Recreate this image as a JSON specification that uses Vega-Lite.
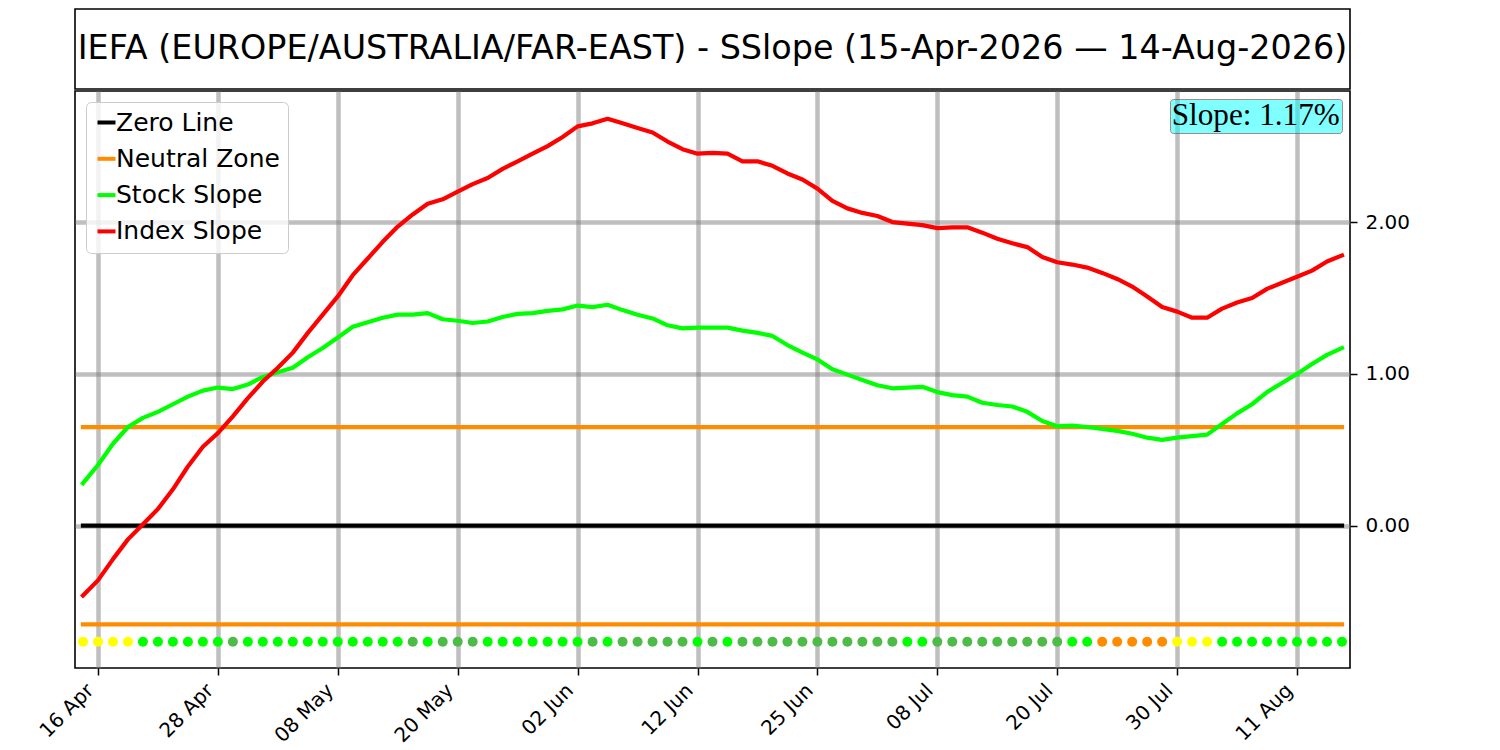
{
  "$schema": "https://vega.github.io/schema/vega-lite/v6.json",
  "background": "white",
  "padding": {"left": 35, "top": 8, "right": 5, "bottom": 5},
  "spacing": 0,
  "resolve": {
    "scale": {"stroke": "independent", "fill": "independent", "shape": "independent"},
    "legend": {"stroke": "independent", "fill": "independent", "shape": "independent"}
  },
  "vconcat": [
    {
      "width": 1275,
      "height": 80,
      "data": {"values": [{"title": "IEFA (EUROPE/AUSTRALIA/FAR-EAST) - SSlope (15-Apr-2026 — 14-Aug-2026)"}]},
      "mark": {"type": "text", "font": "DejaVu Sans", "fontSize": 33.4, "align": "center", "baseline": "middle", "color": "black"},
      "encoding": {
        "x": {"datum": 0.5, "type": "quantitative", "scale": {"domain": [0, 1]}, "axis": null},
        "y": {"datum": 0.5, "type": "quantitative", "scale": {"domain": [0, 1]}, "axis": null},
        "text": {"field": "title", "type": "nominal"}
      }
    },
    {
      "width": 1275,
      "height": 577,
      "data": {
        "values": [
          {"date": "2026-04-15", "stock": 0.28, "index": -0.46, "trend": "rising_weak"},
          {"date": "2026-04-16", "stock": 0.40, "index": -0.36, "trend": "rising_weak"},
          {"date": "2026-04-17", "stock": 0.54, "index": -0.22, "trend": "rising_weak"},
          {"date": "2026-04-20", "stock": 0.65, "index": -0.09, "trend": "rising_weak"},
          {"date": "2026-04-21", "stock": 0.71, "index": 0.01, "trend": "rising"},
          {"date": "2026-04-22", "stock": 0.75, "index": 0.11, "trend": "rising"},
          {"date": "2026-04-23", "stock": 0.80, "index": 0.24, "trend": "rising"},
          {"date": "2026-04-24", "stock": 0.85, "index": 0.39, "trend": "rising"},
          {"date": "2026-04-27", "stock": 0.89, "index": 0.52, "trend": "rising"},
          {"date": "2026-04-28", "stock": 0.91, "index": 0.61, "trend": "rising"},
          {"date": "2026-04-29", "stock": 0.90, "index": 0.72, "trend": "falling"},
          {"date": "2026-04-30", "stock": 0.93, "index": 0.84, "trend": "rising"},
          {"date": "2026-05-01", "stock": 0.98, "index": 0.95, "trend": "rising"},
          {"date": "2026-05-04", "stock": 1.01, "index": 1.04, "trend": "rising"},
          {"date": "2026-05-05", "stock": 1.04, "index": 1.14, "trend": "rising"},
          {"date": "2026-05-06", "stock": 1.11, "index": 1.27, "trend": "rising"},
          {"date": "2026-05-07", "stock": 1.17, "index": 1.39, "trend": "rising"},
          {"date": "2026-05-08", "stock": 1.24, "index": 1.51, "trend": "rising"},
          {"date": "2026-05-11", "stock": 1.31, "index": 1.65, "trend": "rising"},
          {"date": "2026-05-12", "stock": 1.34, "index": 1.76, "trend": "rising"},
          {"date": "2026-05-13", "stock": 1.37, "index": 1.87, "trend": "rising"},
          {"date": "2026-05-14", "stock": 1.39, "index": 1.97, "trend": "rising"},
          {"date": "2026-05-15", "stock": 1.39, "index": 2.05, "trend": "falling"},
          {"date": "2026-05-18", "stock": 1.40, "index": 2.12, "trend": "rising"},
          {"date": "2026-05-19", "stock": 1.36, "index": 2.15, "trend": "falling"},
          {"date": "2026-05-20", "stock": 1.35, "index": 2.20, "trend": "falling"},
          {"date": "2026-05-21", "stock": 1.335, "index": 2.25, "trend": "falling"},
          {"date": "2026-05-22", "stock": 1.345, "index": 2.29, "trend": "rising"},
          {"date": "2026-05-26", "stock": 1.375, "index": 2.35, "trend": "rising"},
          {"date": "2026-05-27", "stock": 1.395, "index": 2.40, "trend": "rising"},
          {"date": "2026-05-28", "stock": 1.40, "index": 2.45, "trend": "rising"},
          {"date": "2026-05-29", "stock": 1.415, "index": 2.50, "trend": "rising"},
          {"date": "2026-06-01", "stock": 1.425, "index": 2.56, "trend": "rising"},
          {"date": "2026-06-02", "stock": 1.45, "index": 2.63, "trend": "rising"},
          {"date": "2026-06-03", "stock": 1.44, "index": 2.65, "trend": "falling"},
          {"date": "2026-06-04", "stock": 1.455, "index": 2.68, "trend": "rising"},
          {"date": "2026-06-05", "stock": 1.42, "index": 2.65, "trend": "falling"},
          {"date": "2026-06-08", "stock": 1.39, "index": 2.62, "trend": "falling"},
          {"date": "2026-06-09", "stock": 1.365, "index": 2.59, "trend": "falling"},
          {"date": "2026-06-10", "stock": 1.32, "index": 2.53, "trend": "falling"},
          {"date": "2026-06-11", "stock": 1.30, "index": 2.48, "trend": "falling"},
          {"date": "2026-06-12", "stock": 1.305, "index": 2.45, "trend": "rising"},
          {"date": "2026-06-15", "stock": 1.305, "index": 2.455, "trend": "falling"},
          {"date": "2026-06-16", "stock": 1.305, "index": 2.45, "trend": "rising"},
          {"date": "2026-06-17", "stock": 1.285, "index": 2.40, "trend": "falling"},
          {"date": "2026-06-18", "stock": 1.27, "index": 2.40, "trend": "falling"},
          {"date": "2026-06-22", "stock": 1.25, "index": 2.37, "trend": "falling"},
          {"date": "2026-06-23", "stock": 1.19, "index": 2.32, "trend": "falling"},
          {"date": "2026-06-24", "stock": 1.14, "index": 2.28, "trend": "falling"},
          {"date": "2026-06-25", "stock": 1.095, "index": 2.22, "trend": "falling"},
          {"date": "2026-06-26", "stock": 1.03, "index": 2.14, "trend": "falling"},
          {"date": "2026-06-29", "stock": 0.995, "index": 2.09, "trend": "falling"},
          {"date": "2026-06-30", "stock": 0.96, "index": 2.06, "trend": "falling"},
          {"date": "2026-07-01", "stock": 0.925, "index": 2.04, "trend": "falling"},
          {"date": "2026-07-02", "stock": 0.905, "index": 2.00, "trend": "falling"},
          {"date": "2026-07-06", "stock": 0.91, "index": 1.99, "trend": "rising"},
          {"date": "2026-07-07", "stock": 0.915, "index": 1.98, "trend": "rising"},
          {"date": "2026-07-08", "stock": 0.88, "index": 1.96, "trend": "falling"},
          {"date": "2026-07-09", "stock": 0.86, "index": 1.965, "trend": "falling"},
          {"date": "2026-07-10", "stock": 0.85, "index": 1.965, "trend": "falling"},
          {"date": "2026-07-13", "stock": 0.81, "index": 1.93, "trend": "falling"},
          {"date": "2026-07-14", "stock": 0.795, "index": 1.89, "trend": "falling"},
          {"date": "2026-07-15", "stock": 0.785, "index": 1.86, "trend": "falling"},
          {"date": "2026-07-16", "stock": 0.75, "index": 1.835, "trend": "falling"},
          {"date": "2026-07-17", "stock": 0.69, "index": 1.77, "trend": "falling"},
          {"date": "2026-07-20", "stock": 0.655, "index": 1.735, "trend": "falling"},
          {"date": "2026-07-21", "stock": 0.66, "index": 1.72, "trend": "rising"},
          {"date": "2026-07-22", "stock": 0.65, "index": 1.70, "trend": "rising"},
          {"date": "2026-07-23", "stock": 0.637, "index": 1.665, "trend": "falling_weak"},
          {"date": "2026-07-24", "stock": 0.625, "index": 1.625, "trend": "falling_weak"},
          {"date": "2026-07-27", "stock": 0.606, "index": 1.575, "trend": "falling_weak"},
          {"date": "2026-07-28", "stock": 0.58, "index": 1.51, "trend": "falling_weak"},
          {"date": "2026-07-29", "stock": 0.565, "index": 1.44, "trend": "falling_weak"},
          {"date": "2026-07-30", "stock": 0.58, "index": 1.41, "trend": "rising_weak"},
          {"date": "2026-07-31", "stock": 0.59, "index": 1.37, "trend": "rising_weak"},
          {"date": "2026-08-03", "stock": 0.60, "index": 1.37, "trend": "rising_weak"},
          {"date": "2026-08-04", "stock": 0.67, "index": 1.43, "trend": "rising"},
          {"date": "2026-08-05", "stock": 0.74, "index": 1.47, "trend": "rising"},
          {"date": "2026-08-06", "stock": 0.80, "index": 1.50, "trend": "rising"},
          {"date": "2026-08-07", "stock": 0.88, "index": 1.56, "trend": "rising"},
          {"date": "2026-08-10", "stock": 0.94, "index": 1.60, "trend": "rising"},
          {"date": "2026-08-11", "stock": 1.00, "index": 1.64, "trend": "rising"},
          {"date": "2026-08-12", "stock": 1.065, "index": 1.68, "trend": "rising"},
          {"date": "2026-08-13", "stock": 1.125, "index": 1.74, "trend": "rising"},
          {"date": "2026-08-14", "stock": 1.17, "index": 1.78, "trend": "rising"}
        ]
      },
      "encoding": {
        "x": {
          "field": "date",
          "type": "ordinal",
          "scale": {"type": "point", "padding": 0.533},
          "axis": {
            "title": null,
            "values": ["2026-04-16", "2026-04-28", "2026-05-08", "2026-05-20", "2026-06-02", "2026-06-12", "2026-06-25", "2026-07-08", "2026-07-20", "2026-07-30", "2026-08-11"],
            "labelExpr": "utcFormat(toDate(datum.value), '%d %b')",
            "labelAngle": -45,
            "labelAlign": "right",
            "labelBaseline": "middle",
            "labelPadding": 12,
            "labelOffset": -8,
            "labelFontSize": 20,
            "labelColor": "black",
            "domain": false,
            "tickColor": "black",
            "tickSize": 7,
            "tickWidth": 1.5,
            "grid": true,
            "gridColor": "gray",
            "gridOpacity": 0.5,
            "gridWidth": 4.5
          }
        }
      },
      "layer": [
        {
          "mark": {"type": "line", "strokeWidth": 4.2, "strokeCap": "square"},
          "encoding": {
            "y": {"datum": 0, "type": "quantitative"},
            "stroke": {"datum": "zero", "type": "nominal"}
          }
        },
        {
          "mark": {"type": "line", "strokeWidth": 4.2, "strokeCap": "square"},
          "encoding": {
            "y": {"datum": 0.65, "type": "quantitative"},
            "stroke": {"datum": "neutral", "type": "nominal"}
          }
        },
        {
          "mark": {"type": "line", "strokeWidth": 4.2, "strokeCap": "square"},
          "encoding": {
            "y": {"datum": -0.65, "type": "quantitative"},
            "stroke": {"datum": "neutral", "type": "nominal"}
          }
        },
        {
          "transform": [{"fold": ["stock", "index"], "as": ["series", "value"]}],
          "mark": {"type": "line", "strokeWidth": 4.2, "strokeCap": "square", "strokeJoin": "round"},
          "encoding": {
            "y": {
              "field": "value",
              "type": "quantitative",
              "scale": {"domain": [-0.937, 2.863], "nice": false, "zero": false},
              "axis": {
                "title": null,
                "orient": "right",
                "values": [0, 1, 2],
                "format": ".2f",
                "labelFontSize": 20,
                "labelColor": "black",
                "labelPadding": 8,
                "domain": false,
                "tickColor": "black",
                "tickSize": 7,
                "tickWidth": 1.5,
                "grid": true,
                "gridColor": "gray",
                "gridOpacity": 0.5,
                "gridWidth": 4.5
              }
            },
            "stroke": {
              "field": "series",
              "type": "nominal",
              "scale": {
                "domain": ["zero", "neutral", "stock", "index"],
                "range": ["#000000", "#ff8c00", "#00ff00", "#ff0000"]
              },
              "legend": {
                "title": null,
                "orient": "top-left",
                "offset": 11,
                "padding": 8,
                "fillColor": "rgba(255,255,255,0.8)",
                "strokeColor": "#cccccc",
                "cornerRadius": 5,
                "symbolType": "stroke",
                "symbolSize": 324,
                "symbolStrokeWidth": 4,
                "labelOffset": -3,
                "labelFont": "DejaVu Sans",
                "labelFontSize": 25,
                "labelColor": "black",
                "labelLimit": 400,
                "rowPadding": 10.3,
                "labelExpr": "datum.label == 'zero' ? 'Zero Line' : datum.label == 'neutral' ? 'Neutral Zone' : datum.label == 'stock' ? 'Stock Slope' : 'Index Slope'"
              }
            }
          }
        },
        {
          "mark": {"type": "circle", "size": 100, "opacity": 1},
          "encoding": {
            "y": {"datum": -0.764, "type": "quantitative"},
            "fill": {
              "field": "trend",
              "type": "nominal",
              "scale": {
                "domain": ["rising", "falling", "falling_weak", "rising_weak"],
                "range": ["#00ff00", "#4cbb47", "#ff8c00", "#ffff00"]
              },
              "legend": null
            }
          }
        },
        {
          "transform": [{"filter": {"field": "date", "equal": "2026-08-14"}}],
          "mark": {"type": "point", "opacity": 0},
          "encoding": {
            "y": {"field": "stock", "type": "quantitative"},
            "shape": {
              "field": "stock",
              "type": "nominal",
              "legend": {
                "title": null,
                "orient": "top-right",
                "offset": 8,
                "padding": 1.5,
                "fillColor": "rgba(0,255,255,0.5)",
                "strokeColor": "rgba(150,40,40,0.55)",
                "cornerRadius": 3,
                "symbolSize": 0,
                "symbolOpacity": 0,
                "symbolStrokeWidth": 0,
                "labelOffset": -31,
                "labelFont": "Liberation Serif",
                "labelFontSize": 31.2,
                "labelColor": "black",
                "labelLimit": 400,
                "labelExpr": "'Slope: ' + datum.label + '%'"
              }
            }
          }
        }
      ]
    }
  ],
  "config": {
    "font": "DejaVu Sans",
    "view": {"stroke": "black", "strokeWidth": 1.6}
  }
}
